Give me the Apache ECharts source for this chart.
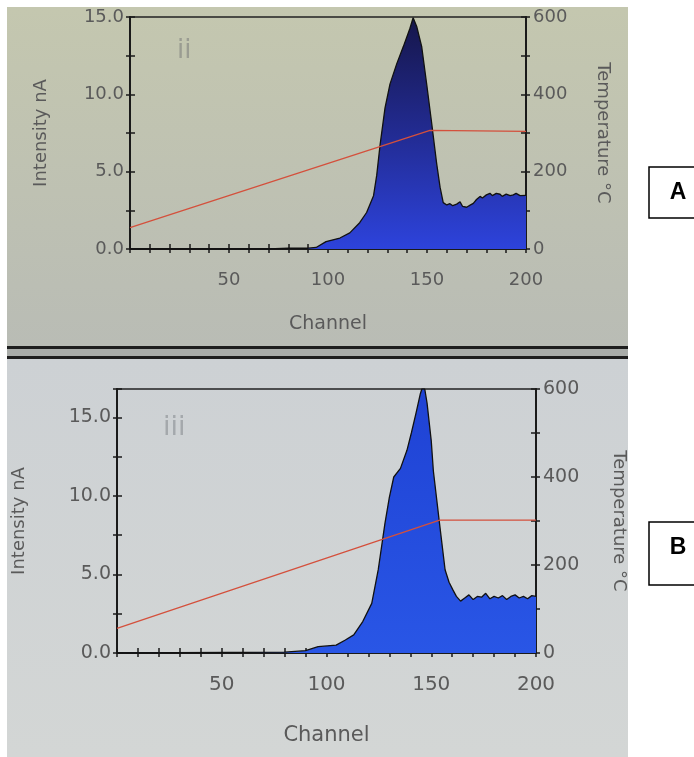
<!DOCTYPE html>
<html>
<head>
<meta charset="utf-8">
<script src="https://cdn.jsdelivr.net/npm/echarts@6/dist/echarts.min.js"></script>
<style>
html, body { margin: 0; padding: 0; background: #fff; }
#main { width: 694px; height: 757px; }
</style>
</head>
<body>
<div id="main"></div>
<script>
// panel A (ii)
var channelA = [0, 70, 80, 90, 94, 99, 106, 111, 116, 119.5, 123, 124.6, 126.3, 128.8, 131.3, 134.7, 138, 141.4, 143, 144.8, 147.3, 149.8, 152.4, 154.9, 156.6, 158.2, 160, 161.6, 163, 165, 166.7, 168, 170, 172, 173.4, 175, 176.8, 178, 180, 181.8, 183, 185, 186.9, 188, 190, 192, 193.6, 195, 197, 200];
var intensityA = [0, 0, 0.05, 0.05, 0.1, 0.48, 0.71, 1.04, 1.7, 2.36, 3.45, 4.76, 6.73, 9.13, 10.66, 11.97, 13.07, 14.27, 14.95, 14.39, 13.1, 10.7, 8.1, 5.5, 4.0, 3.0, 2.85, 2.93, 2.8, 2.9, 3.05, 2.75, 2.7, 2.85, 2.95, 3.2, 3.4, 3.3, 3.5, 3.6, 3.45, 3.6, 3.54, 3.4, 3.55, 3.45, 3.5, 3.6, 3.45, 3.47];
var tempChannelA = [0, 151.5, 200];
var temperatureA = [55, 307, 304];

// panel B (iii)
var channelB = [0, 80, 90, 96, 104.6, 109, 113, 117.3, 121.6, 124.7, 127.9, 130, 132.1, 135.3, 138.4, 140.5, 142.7, 144.8, 145.5, 146.9, 148, 150, 151, 153.9, 156.6, 158.5, 160.4, 162, 164, 166, 168, 170, 172, 174, 176, 178, 180, 182, 184, 186, 188, 190, 192, 194, 196, 198, 200];
var intensityB = [0, 0.05, 0.15, 0.4, 0.5, 0.83, 1.15, 2.0, 3.16, 5.3, 8.25, 9.9, 11.2, 11.75, 12.9, 14.0, 15.25, 16.5, 16.8, 16.8, 15.9, 13.5, 11.6, 8.3, 5.3, 4.5, 4.0, 3.6, 3.3, 3.5, 3.7, 3.4, 3.6, 3.55, 3.8, 3.45, 3.6, 3.5, 3.65, 3.4, 3.6, 3.7, 3.5, 3.6, 3.45, 3.65, 3.6];
var tempChannelB = [0, 154, 200];
var temperatureB = [56, 302, 302];

var intensityMaxA = 15;
var intensityMaxB = 16.8;

var myChart = echarts.init(document.getElementById('main'));
var font = 'DejaVu Sans';

function pairs(xs, ys) {
    return xs.map(function (x, i) { return [x, ys[i]]; });
}

// main x axis with outside ticks + labels
function xMain(gi, gap, size) {
    return {
        gridIndex: gi, type: 'value', min: 0, max: 200, interval: 10,
        name: 'Channel', nameLocation: 'middle', nameGap: gap,
        nameTextStyle: { color: '#5a5a5a', fontSize: size + 1, fontFamily: font },
        axisLine: { lineStyle: { color: '#1a1a1a', width: 2 } },
        axisTick: { inside: false, length: 4, lineStyle: { color: '#1a1a1a', width: 1.5 } },
        axisLabel: {
            margin: 22, color: '#5a5a5a', fontSize: size, fontFamily: font,
            formatter: function (v) { return (v > 0 && v % 50 === 0) ? v : ''; }
        },
        splitLine: { show: false }
    };
}
// companion axis, inside ticks only (ticks cross the line)
function xInner(gi) {
    return {
        gridIndex: gi, type: 'value', min: 0, max: 200, interval: 10,
        axisLine: { show: false },
        axisTick: { inside: true, length: 5, lineStyle: { color: '#1a1a1a', width: 1.5 } },
        axisLabel: { show: false }, splitLine: { show: false }
    };
}
function yLeft(gi, max, gap, size, inner) {
    return {
        gridIndex: gi, type: 'value', position: 'left', min: 0, max: max, interval: 2.5,
        name: inner ? '' : 'Intensity nA', nameLocation: 'middle', nameGap: gap,
        nameTextStyle: { color: '#5a5a5a', fontSize: 18, fontFamily: font },
        axisLine: { show: !inner, lineStyle: { color: '#1a1a1a', width: 2 } },
        axisTick: { inside: !!inner, length: inner ? 5 : 4, lineStyle: { color: '#1a1a1a', width: 1.5 } },
        axisLabel: {
            show: !inner, margin: 6, color: '#5a5a5a', fontSize: size, fontFamily: font,
            formatter: function (v) { return v % 5 === 0 ? v.toFixed(1) : ''; }
        },
        splitLine: { show: false }
    };
}
function yRight(gi, gap, size, inner) {
    return {
        gridIndex: gi, type: 'value', position: 'right', min: 0, max: 600, interval: 100,
        name: inner ? '' : 'Temperature °C', nameLocation: 'middle', nameGap: gap, nameRotate: -90,
        nameTextStyle: { color: '#5a5a5a', fontSize: 18, fontFamily: font },
        axisLine: { show: !inner, lineStyle: { color: '#1a1a1a', width: 2 } },
        axisTick: { inside: !!inner, length: inner ? 5 : 4, lineStyle: { color: '#1a1a1a', width: 1.5 } },
        axisLabel: {
            show: !inner, margin: 7, color: '#5a5a5a', fontSize: size, fontFamily: font,
            formatter: function (v) { return v % 200 === 0 ? v : ''; }
        },
        splitLine: { show: false }
    };
}

var gridA = { left: 130, top: 17, width: 396, height: 232 };
var gridB = { left: 117, top: 389, width: 419, height: 264 };
function frame(g) {
    return Object.assign({ show: true, borderColor: '#222', borderWidth: 1.5, backgroundColor: 'transparent' }, g);
}

var option = {
    backgroundColor: '#fff',
    animation: false,
    grid: [frame(gridA), Object.assign({}, gridA), frame(gridB), Object.assign({}, gridB)],
    xAxis: [xMain(0, 66, 18), xInner(1), xMain(2, 72, 20), xInner(3)],
    yAxis: [
        yLeft(0, intensityMaxA, 80, 18), yRight(0, 68, 18),
        yLeft(1, intensityMaxA, 0, 18, true), yRight(1, 0, 18, true),
        yLeft(2, intensityMaxB, 89, 19), yRight(2, 74, 19),
        yLeft(3, intensityMaxB, 0, 19, true), yRight(3, 0, 19, true)
    ],
    graphic: [
        // photo backgrounds
        { type: 'rect', z: -10, shape: { x: 7, y: 7, width: 621, height: 340 },
          style: { fill: new echarts.graphic.LinearGradient(0, 0, 0, 1, [
              { offset: 0, color: '#c4c7af' }, { offset: 1, color: '#b9bcb5' }]) } },
        { type: 'rect', z: -10, shape: { x: 7, y: 346, width: 621, height: 14 }, style: { fill: '#a9aca9' } },
        { type: 'rect', z: -9, shape: { x: 7, y: 346, width: 621, height: 3 }, style: { fill: '#1e1e1e' } },
        { type: 'rect', z: -9, shape: { x: 7, y: 356, width: 621, height: 3 }, style: { fill: '#1e1e1e' } },
        { type: 'rect', z: -10, shape: { x: 7, y: 359, width: 621, height: 398 },
          style: { fill: new echarts.graphic.LinearGradient(0, 0, 0, 1, [
              { offset: 0, color: '#cdd1d4' }, { offset: 1, color: '#d3d6d5' }]) } },
        // panel numbers
        { type: 'text', z: 5, x: 177, y: 38, style: { text: 'ii', fill: '#9a9c92', fontSize: 26, fontFamily: font } },
        { type: 'text', z: 5, x: 163, y: 414, style: { text: 'iii', fill: '#a4a8ac', fontSize: 27, fontFamily: font } },
        // white margin on the right, with panel tags
        { type: 'rect', z: 50, shape: { x: 628, y: 0, width: 66, height: 757 }, style: { fill: '#fff' } },
        { type: 'rect', z: 51, shape: { x: 649, y: 167, width: 60, height: 51 }, style: { fill: '#fff', stroke: '#000', lineWidth: 1.5 } },
        { type: 'text', z: 52, x: 678, y: 193, style: { text: 'A', fill: '#000', fontSize: 23, fontWeight: 'bold', fontFamily: 'Liberation Sans', align: 'center', verticalAlign: 'middle' } },
        { type: 'rect', z: 51, shape: { x: 649, y: 522, width: 60, height: 63 }, style: { fill: '#fff', stroke: '#000', lineWidth: 1.5 } },
        { type: 'text', z: 52, x: 678, y: 548, style: { text: 'B', fill: '#000', fontSize: 23, fontWeight: 'bold', fontFamily: 'Liberation Sans', align: 'center', verticalAlign: 'middle' } }
    ],
    series: [
        {
            name: 'Intensity A', type: 'line', xAxisIndex: 0, yAxisIndex: 0,
            data: pairs(channelA, intensityA), symbol: 'none',
            lineStyle: { color: '#111', width: 1.3 },
            areaStyle: { opacity: 1, color: new echarts.graphic.LinearGradient(0, 0, 0, 1, [
                { offset: 0, color: '#16164a' }, { offset: 0.5, color: '#222b92' }, { offset: 1, color: '#2d43dc' }]) }
        },
        {
            name: 'Temperature A', type: 'line', xAxisIndex: 0, yAxisIndex: 1,
            data: pairs(tempChannelA, temperatureA), symbol: 'none',
            lineStyle: { color: '#d4503c', width: 1.3 }
        },
        {
            name: 'Intensity B', type: 'line', xAxisIndex: 2, yAxisIndex: 4,
            data: pairs(channelB, intensityB), symbol: 'none',
            lineStyle: { color: '#111', width: 1.3 },
            areaStyle: { opacity: 1, color: new echarts.graphic.LinearGradient(0, 0, 0, 1, [
                { offset: 0, color: '#1f42d4' }, { offset: 1, color: '#2956e6' }]) }
        },
        {
            name: 'Temperature B', type: 'line', xAxisIndex: 2, yAxisIndex: 5,
            data: pairs(tempChannelB, temperatureB), symbol: 'none',
            lineStyle: { color: '#d4503c', width: 1.3 }
        }
    ]
};
myChart.setOption(option);

window.onresize = function () {
    myChart.resize();
};
</script>
</body>
</html>
